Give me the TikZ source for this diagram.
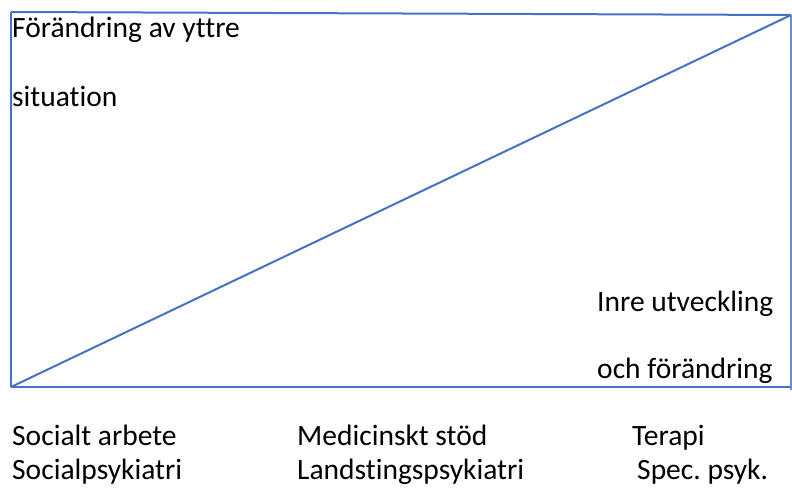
\documentclass[tikz,border=0pt]{standalone}
\usepackage{fontspec}
\setmainfont[Ligatures=NoCommon]{Carlito}
\definecolor{lineblue}{HTML}{4472C4}
\frenchspacing
\begin{document}
\begin{tikzpicture}[x=1pt,y=1pt,
  edge/.style={draw=lineblue,line width=2pt},
  thinedge/.style={draw=lineblue!80,line width=1.2pt},
  lbl/.style={anchor=base west,inner sep=0pt,font=\fontsize{29.5}{34}\selectfont}]
\useasboundingbox (0,0) rectangle (792,487);
\coordinate (tl) at (11,475);
\coordinate (tr) at (791,472);
\coordinate (bl) at (11,100);
\coordinate (br) at (792,100);
\coordinate (rb) at (791,97);
\draw[edge] (tl) -- (tr);
\draw[edge] (tl) -- (bl);
\draw[edge] (bl) -- (br);
\draw[thinedge] (tr) -- (rb);
\draw[edge] (bl) -- (tr);
\node[lbl] (t1) at (12,449) {Förändring av yttre};
\node[lbl] (t2) at (12,380) {situation};
\node[lbl] (t3) at (597,175) {Inre utveckling};
\node[lbl] (t4) at (597,108) {och förändring};
\node[lbl] (b1) at (12,41) {Socialt arbete};
\node[lbl] (b2) at (12,7) {Socialpsykiatri};
\node[lbl] (b3) at (297,41) {Medicinskt stöd};
\node[lbl] (b4) at (297,7) {Landstingspsykiatri};
\node[lbl] (b5) at (632,41) {Terapi};
\node[lbl] (b6) at (637,7) {Spec. psyk.};
\end{tikzpicture}
\end{document}
